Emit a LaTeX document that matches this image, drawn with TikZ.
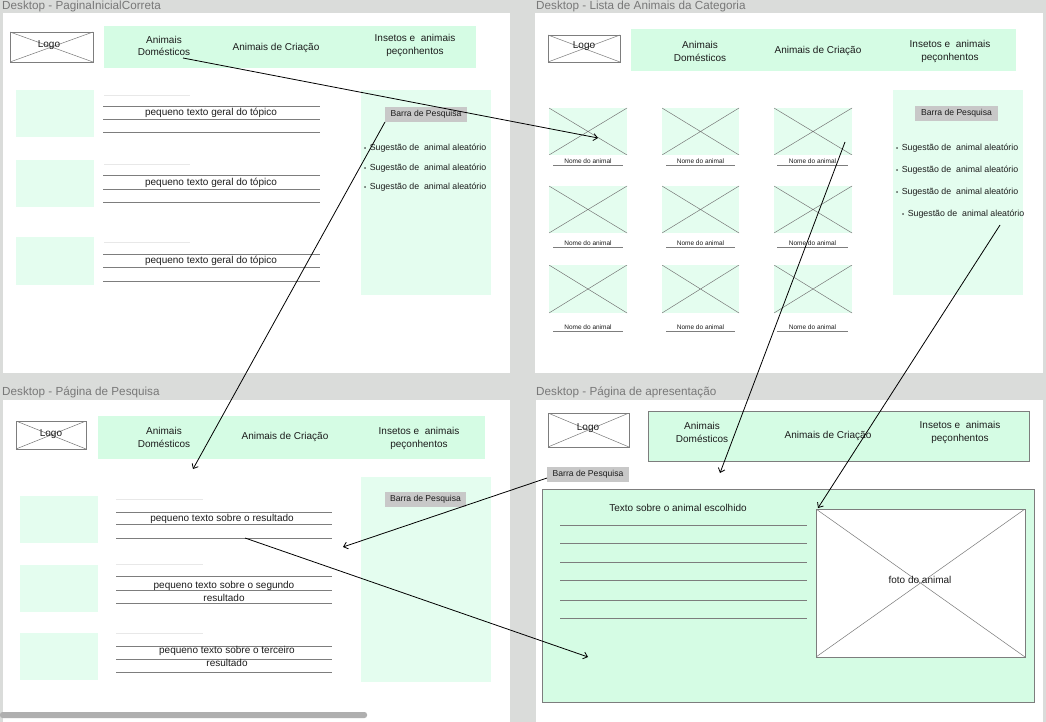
\documentclass[tikz,border=0pt]{standalone}
\usepackage{fontspec}
\setmainfont{Liberation Sans}
\usetikzlibrary{arrows.meta,fit}
\definecolor{bggray}{RGB}{218,220,218}
\definecolor{navg}{RGB}{213,252,228}
\definecolor{lightg}{RGB}{228,253,239}
\definecolor{bargray}{RGB}{200,200,200}
\definecolor{txtc}{RGB}{28,28,28}
\definecolor{titlec}{RGB}{120,120,120}
\definecolor{linec}{RGB}{125,125,125}
\definecolor{faint}{RGB}{232,232,232}
\definecolor{xcol}{RGB}{120,120,120}
\definecolor{scrollc}{RGB}{175,175,175}
\tikzset{
  area/.style={inner sep=0pt, outer sep=0pt, draw=none},
  navbar/.style={area, fill=navg},
  lgbox/.style={area, fill=lightg},
  crossed/.style={path picture={\draw[xcol, line width=0.5pt]
      (path picture bounding box.north west) -- (path picture bounding box.south east)
      (path picture bounding box.south west) -- (path picture bounding box.north east);}},
  logobox/.style={area, draw=linec, line width=0.6pt, fill=white, crossed},
  imgph/.style={area, fill=lightg, crossed},
  barbox/.style={area, fill=bargray},
  navtxt/.style={inner sep=0pt, align=center, text=txtc, font=\fontsize{10}{12.5}\selectfont},
  bodytxt/.style={inner sep=0pt, align=center, text=txtc, font=\fontsize{10}{13}\selectfont},
  bartxt/.style={inner sep=0pt, text=txtc, font=\fontsize{8.6}{10}\selectfont},
  sugtxt/.style={inner sep=0pt, anchor=west, text=txtc, font=\fontsize{8.8}{10}\selectfont},
  captxt/.style={inner sep=0pt, text=txtc, font=\fontsize{6.5}{7}\selectfont},
  titletxt/.style={inner sep=0pt, anchor=west, text=titlec, font=\fontsize{11.7}{13}\selectfont},
  tline/.style={draw=linec, line width=0.7pt},
  fline/.style={draw=faint, line width=0.7pt},
  link/.style={draw=black, line width=0.8pt, -{Straight Barb[length=4pt,width=7pt]}},
}
\newcommand{\sug}{{\fontsize{6}{6}\selectfont •}\hspace{3.5pt}Sugestão de\ \ animal aleatório}
\begin{document}
\begin{tikzpicture}[x=1pt,y=-1pt]
\useasboundingbox (0,0) rectangle (1046,722);
\fill[bggray] (0,0) rectangle (1046,722);
% frames
\fill[white] (3,13) rectangle (510,373);
\fill[white] (535,13) rectangle (1043,373);
\fill[white] (3,400) rectangle (510,722);
\fill[white] (536,400) rectangle (1043,722);
\node[titletxt] (t1) at (2,6.5) {Desktop - PaginaInicialCorreta};
\node[titletxt] (t2) at (536,6.5) {Desktop - Lista de Animais da Categoria};
\node[titletxt] (t3) at (2,392.5) {Desktop - Página de Pesquisa};
\node[titletxt] (t4) at (536,392.5) {Desktop - Página de apresentação};
\fill[scrollc, rounded corners=2.5pt] (0,712) rectangle (367,718);

% ===== Frame 1 =====
\node[logobox, fit={(10,32) (93,62)}] (logo1) {};
\node[navtxt] at (49,45.5) {Logo};
\node[navbar, fit={(104,26) (476,68)}] (nav1) {};
\node[navtxt] (n1dom) at (164,46) {Animais\\Domésticos};
\node[navtxt] (n1cri) at (276,48) {Animais de Criação};
\node[navtxt] (n1ins) at (415,45.5) {Insetos e\ \ animais\\peçonhentos};
\foreach \ya/\yb in {90/137,160/207,237/285}{
  \fill[lightg] (16,\ya) rectangle (94,\yb);}
\foreach \yf/\ya/\yb/\yc in {95/106/119/132, 164/175/189/202, 242/254/267/281}{
  \draw[fline] (104,\yf) -- (190,\yf);
  \draw[tline] (103,\ya) -- (320,\ya);
  \draw[tline] (103,\yb) -- (320,\yb);
  \draw[tline] (103,\yc) -- (320,\yc);}
\node[bodytxt] at (211,112.5) {pequeno texto geral do tópico};
\node[bodytxt] at (211,182.5) {pequeno texto geral do tópico};
\node[bodytxt] at (211,260.5) {pequeno texto geral do tópico};
\node[lgbox, fit={(361,90) (491,295)}] (side1) {};
\node[barbox, fit={(385,107) (467,122)}] (bar1) {};
\node[bartxt] at (bar1) {Barra de Pesquisa};
\node[sugtxt] at (364,148) {\sug};
\node[sugtxt] at (364,168) {\sug};
\node[sugtxt] at (364,187) {\sug};

% ===== Frame 2 =====
\node[logobox, fit={(548,35) (620,62)}] (logo2) {};
\node[navtxt] at (584,46.5) {Logo};
\node[navbar, fit={(631,29) (1016,71)}] (nav2) {};
\node[navtxt] at (700,51.5) {Animais\\Domésticos};
\node[navtxt] at (818,50.5) {Animais de Criação};
\node[navtxt] at (950,51.5) {Insetos e\ \ animais\\peçonhentos};
\foreach \r/\ya/\yb/\yt/\yl in {1/108/155/161/165, 2/186/233/243/247, 3/265/313/327/331}{
  \foreach \c/\xa/\xb/\la/\lb in {1/549/627/553/623, 2/662/739/666/735, 3/774/852/777/848}{
    \node[imgph, fit={(\xa,\ya) (\xb,\yb)}] (img\r\c) {};
    \node[captxt] at ({(\la+\lb)/2},\yt) {Nome do animal};
    \draw[tline] (\la,\yl) -- (\lb,\yl);}}
\node[lgbox, fit={(893,90) (1023,295)}] (side2) {};
\node[barbox, fit={(915,106) (998,121)}] (bar2) {};
\node[bartxt] at (bar2) {Barra de Pesquisa};
\node[sugtxt] at (896,148) {\sug};
\node[sugtxt] at (896,170) {\sug};
\node[sugtxt] at (896,192) {\sug};
\node[sugtxt] at (902,214) {\sug};

% ===== Frame 3 =====
\node[logobox, fit={(16,421) (86,449)}] (logo3) {};
\node[navtxt] at (51,434.5) {Logo};
\node[navbar, fit={(98,416) (485,459)}] (nav3) {};
\node[navtxt] at (164,437.5) {Animais\\Domésticos};
\node[navtxt] at (285,436.5) {Animais de Criação};
\node[navtxt] at (419,438.5) {Insetos e\ \ animais\\peçonhentos};
\node[lgbox, fit={(361,477) (491,682)}] (side3) {};
\node[barbox, fit={(385,492) (466,507)}] (bar3) {};
\node[bartxt] at (bar3) {Barra de Pesquisa};
\foreach \ya/\yb in {496/543,565/612,633/680}{
  \fill[lightg] (20,\ya) rectangle (98,\yb);}
\foreach \yf/\ya/\yb/\yc in {499/512/524/538, 564/576/590/603, 633/646/659/672}{
  \draw[fline] (116,\yf) -- (203,\yf);
  \draw[tline] (116,\ya) -- (332,\ya);
  \draw[tline] (116,\yb) -- (332,\yb);
  \draw[tline] (116,\yc) -- (332,\yc);}
\node[bodytxt] (r1) at (222,518.5) {pequeno texto sobre o resultado};
\node[bodytxt] (r2) at (224,591) {pequeno texto sobre o segundo\\resultado};
\node[bodytxt] (r3) at (227,656.5) {pequeno texto sobre o terceiro\\resultado};

% ===== Frame 4 =====
\node[logobox, fit={(548,413) (629,447)}] (logo4) {};
\node[navtxt] at (588,428.5) {Logo};
\node[navbar, draw=linec, line width=0.6pt, fit={(648,411) (1029,461)}] (nav4) {};
\node[navtxt] at (702,432.5) {Animais\\Domésticos};
\node[navtxt] at (828,435.5) {Animais de Criação};
\node[navtxt] at (960,432.5) {Insetos e\ \ animais\\peçonhentos};
\node[barbox, fit={(547,467) (629,482)}] (bar4) {};
\node[bartxt] at (bar4) {Barra de Pesquisa};
\node[navbar, draw=linec, line width=0.6pt, fit={(542,489) (1034,702)}] (main4) {};
\node[bodytxt] at (678,507.5) {Texto sobre o animal escolhido};
\foreach \y in {525,543,562,580,600,618}{
  \draw[tline] (560,\y) -- (807,\y);}
\node[area, fill=white, draw=linec, line width=0.6pt, crossed, fit={(816,509) (1025,657)}] (photo) {};
\node[bodytxt] at (920,579.5) {foto do animal};

% ===== connectors =====
\coordinate (a1s) at (183,58);
\coordinate (a1e) at (598,138);
\coordinate (a2e) at (193,469);
\coordinate (a3s) at (845,142);
\coordinate (a3e) at (720,473);
\coordinate (a4s) at (1000,225);
\coordinate (a4e) at (818,508);
\coordinate (a5s) at (547,478);
\coordinate (a5e) at (343,547);
\coordinate (a6s) at (245,538);
\coordinate (a6e) at (588,657);
\draw[link] (a1s) -- (a1e);
\draw[link] (bar1.south west) -- (a2e);
\draw[link] (a3s) -- (a3e);
\draw[link] (a4s) -- (a4e);
\draw[link] (a5s) -- (a5e);
\draw[link] (a6s) -- (a6e);
\end{tikzpicture}
\end{document}
